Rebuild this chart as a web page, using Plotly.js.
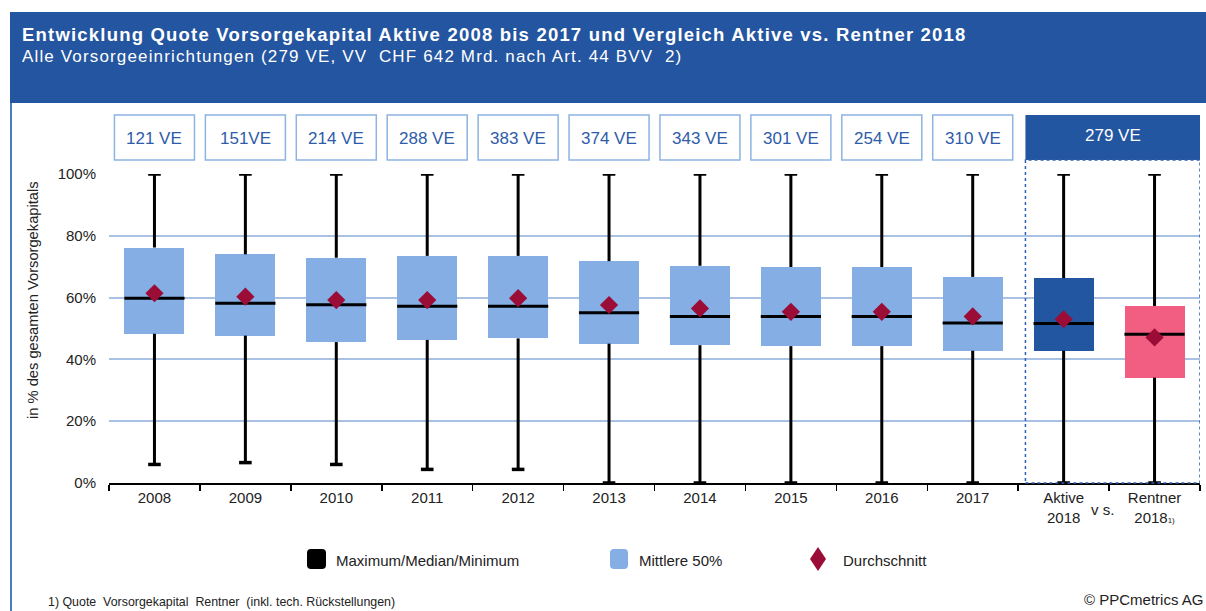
<!DOCTYPE html>
<html>
<head>
<meta charset="utf-8">
<script src="https://cdn.plot.ly/plotly-3.0.1.min.js"></script>
<style>html,body{margin:0;padding:0;background:#fff;}#chart{width:1206px;height:611px;}</style>
</head>
<body>
<div id="chart"></div>
<script>
// ---- data ----
const categories = ['2008','2009','2010','2011','2012','2013','2014','2015','2016','2017','Aktive 2018','Rentner 2018'];
const tickLabels = ['2008','2009','2010','2011','2012','2013','2014','2015','2016','2017','Aktive<br>2018','Rentner<br>2018<span style="font-size:8px">1)</span>'];
const maxVals = [100,100,100,100,100,100,100,100,100,100,100,100];
const q3Vals = [76.2,74.0,72.9,73.5,73.5,71.8,70.3,69.9,69.9,66.7,66.3,57.3];
const medianVals = [59.8,58.2,57.7,57.2,57.2,55.1,53.9,53.9,53.9,51.8,51.6,48.1];
const q1Vals = [48.3,47.7,45.6,46.3,46.8,45.1,44.6,44.3,44.3,42.8,42.8,34.1];
const minVals = [6.0,6.6,6.0,4.4,4.4,0,0,0,0,0,0,0];
const meanVals = [61.4,60.3,59.2,59.2,59.8,57.6,56.5,55.4,55.4,53.9,53.0,47.1];
const veLabels = ['121 VE','151VE','214 VE','288 VE','383 VE','374 VE','343 VE','301 VE','254 VE','310 VE'];
const groupLabel = '279 VE';
const yTicks = [0,20,40,60,80,100];

// ---- styles ----
const FONT = 'Liberation Sans, Arial, sans-serif';
const lightBlue = '#84aee4', darkBlue = '#2356a0', pink = '#f25d82', crimson = '#9b0d36';
const boxColors = categories.map((c,i)=> i<10 ? lightBlue : (i===10 ? darkBlue : pink));

// pixel helpers (plot area: x 109..1200, y 174..483)
const L=109, R=1200, T=174, B=483;
const px = v => (v-L)/(R-L);
const py = v => (B-v)/(B-T);

const xIdx = categories.map((c,i)=>i);

// whiskers (outside the boxes)
const wx=[], wy=[];
xIdx.forEach(i=>{ wx.push(i,i,null,i,i,null); wy.push(q3Vals[i],maxVals[i],null,q1Vals[i],minVals[i],null); });

const traces = [
  {type:'scatter', mode:'lines', x:wx, y:wy, line:{color:'black', width:3}, hoverinfo:'skip', showlegend:false},
  {type:'bar', x:xIdx, y:q3Vals.map((v,i)=>v-q1Vals[i]), base:q1Vals, width:0.66,
   marker:{color:boxColors, line:{width:0}}, hoverinfo:'skip', showlegend:false},
  {type:'scatter', mode:'markers', x:xIdx.concat(xIdx), y:maxVals.concat(minVals),
   marker:{symbol:'line-ew', size:9, line:{color:'black', width:3.5}}, hoverinfo:'skip', showlegend:false},
  {type:'scatter', mode:'markers', x:xIdx, y:medianVals,
   marker:{symbol:'line-ew', size:43, line:{color:'black', width:3}}, hoverinfo:'skip', showlegend:false},
  {type:'scatter', mode:'markers', x:xIdx, y:meanVals,
   marker:{symbol:'diamond', size:14, color:crimson, line:{width:0}}, hoverinfo:'skip', showlegend:false}
];

const shapes = [];
const annotations = [];

// header band
shapes.push({type:'rect', xref:'paper', yref:'paper', x0:px(10), x1:px(1210), y0:py(103), y1:py(12), fillcolor:'#2455a0', line:{width:0}, layer:'below'});
// left frame line
shapes.push({type:'line', xref:'paper', yref:'paper', x0:px(11), x1:px(11), y0:py(103), y1:py(615), line:{color:'#4a7cc0', width:2}});

annotations.push({xref:'paper', yref:'paper', x:px(20), y:py(34), xanchor:'left', yanchor:'middle', showarrow:false,
  text:'<b><span style="letter-spacing:1.2px">Entwicklung Quote Vorsorgekapital Aktive 2008 bis 2017 und Vergleich Aktive vs. Rentner 2018</span></b>',
  font:{family:FONT, size:18.5, color:'white'}});
annotations.push({xref:'paper', yref:'paper', x:px(20), y:py(57), xanchor:'left', yanchor:'middle', showarrow:false,
  text:'<span style="letter-spacing:1.15px">Alle Vorsorgeeinrichtungen (279 VE, VV  CHF 642 Mrd. nach Art. 44 BVV  2)</span>',
  font:{family:FONT, size:17, color:'white'}});

// VE boxes
veLabels.forEach((t,i)=>{
  shapes.push({type:'rect', xref:'x', yref:'paper', x0:i-0.44, x1:i+0.44, y0:py(160), y1:py(115), fillcolor:'white', line:{color:'#8db3e2', width:1.5}});
  annotations.push({xref:'x', yref:'paper', x:i, y:py(138), xanchor:'center', yanchor:'middle', showarrow:false, text:t, font:{family:FONT, size:17, color:'#2e5ca8'}});
});
shapes.push({type:'rect', xref:'x', yref:'paper', x0:9.58, x1:11.5, y0:py(160), y1:py(115), fillcolor:darkBlue, line:{width:0}});
annotations.push({xref:'x', yref:'paper', x:10.54, y:py(136), xanchor:'center', yanchor:'middle', showarrow:false, text:groupLabel, font:{family:FONT, size:17, color:'white'}});
// dotted group frame
shapes.push({type:'rect', xref:'x', yref:'paper', x0:9.58, x1:11.5, y0:0, y1:py(160), line:{color:'#2f5fb0', width:1.5, dash:'dot'}});

// vs.
annotations.push({xref:'x', yref:'paper', x:10.43, y:py(509), xanchor:'center', yanchor:'middle', showarrow:false, text:'v s.', font:{family:FONT, size:15, color:'#222'}});

// y title
annotations.push({xref:'paper', yref:'paper', x:px(33), y:py(300), xanchor:'center', yanchor:'middle', showarrow:false, textangle:-90,
  text:'in % des gesamten Vorsorgekapitals', font:{family:FONT, size:14.7, color:'#222'}});

// legend
function rrect(x0,y0,x1,y1,r){
  return `M${px(x0+r)},${py(y0)} L${px(x1-r)},${py(y0)} Q${px(x1)},${py(y0)} ${px(x1)},${py(y0+r)} L${px(x1)},${py(y1-r)} Q${px(x1)},${py(y1)} ${px(x1-r)},${py(y1)} L${px(x0+r)},${py(y1)} Q${px(x0)},${py(y1)} ${px(x0)},${py(y1-r)} L${px(x0)},${py(y0+r)} Q${px(x0)},${py(y0)} ${px(x0+r)},${py(y0)} Z`;
}
shapes.push({type:'path', xref:'paper', yref:'paper', path:rrect(307,549,326,569,4), fillcolor:'black', line:{width:0}});
shapes.push({type:'path', xref:'paper', yref:'paper', path:rrect(610,549,628,569,4), fillcolor:lightBlue, line:{width:0}});
shapes.push({type:'path', xref:'paper', yref:'paper', path:`M${px(818)},${py(547)} L${px(826)},${py(559)} L${px(818)},${py(571)} L${px(810)},${py(559)} Z`, fillcolor:crimson, line:{width:0}});
[['Maximum/Median/Minimum',334],['Mittlere 50%',637],['Durchschnitt',841]].forEach(([t,x])=>{
  annotations.push({xref:'paper', yref:'paper', x:px(x), y:py(560), xanchor:'left', yanchor:'middle', showarrow:false, text:t, font:{family:FONT, size:15, color:'#222'}});
});

// footnote and copyright
annotations.push({xref:'paper', yref:'paper', x:px(46), y:py(602), xanchor:'left', yanchor:'middle', showarrow:false,
  text:'1) Quote  Vorsorgekapital  Rentner  (inkl. tech. Rückstellungen)', font:{family:FONT, size:12.4, color:'#222'}});
annotations.push({xref:'paper', yref:'paper', x:px(1205), y:py(599), xanchor:'right', yanchor:'middle', showarrow:false,
  text:'© PPCmetrics AG', font:{family:FONT, size:15, color:'#222'}});

const boundaries = categories.map((c,i)=>i-0.5).concat([categories.length-0.5]);

const layout = {
  width:1206, height:611,
  margin:{l:L, r:1206-R, t:T, b:611-B, pad:0},
  paper_bgcolor:'white', plot_bgcolor:'white',
  showlegend:false,
  font:{family:FONT, size:15, color:'#222'},
  bargap:0,
  xaxis:{type:'linear', range:[-0.5,11.5], tickmode:'array', tickvals:xIdx, ticktext:tickLabels, ticks:'',
    showline:true, linecolor:'black', linewidth:2, showgrid:false, zeroline:false, fixedrange:true,
    tickfont:{family:FONT, size:15, color:'#222'},
    minor:{tickmode:'array', tickvals:boundaries, ticks:'outside', ticklen:6, tickwidth:1.5, tickcolor:'black', showgrid:false}},
  yaxis:{range:[0,100], tickmode:'array', tickvals:yTicks, ticktext:yTicks.map(v=>v+'%'), ticks:'',
    showgrid:true, gridcolor:'#a9c1e3', gridwidth:2, zeroline:false, showline:false, fixedrange:true,
    ticklabelstandoff:12, tickfont:{family:FONT, size:15, color:'#222'}},
  shapes:shapes,
  annotations:annotations
};

Plotly.newPlot('chart', traces, layout, {staticPlot:true, displayModeBar:false});
</script>
</body>
</html>
